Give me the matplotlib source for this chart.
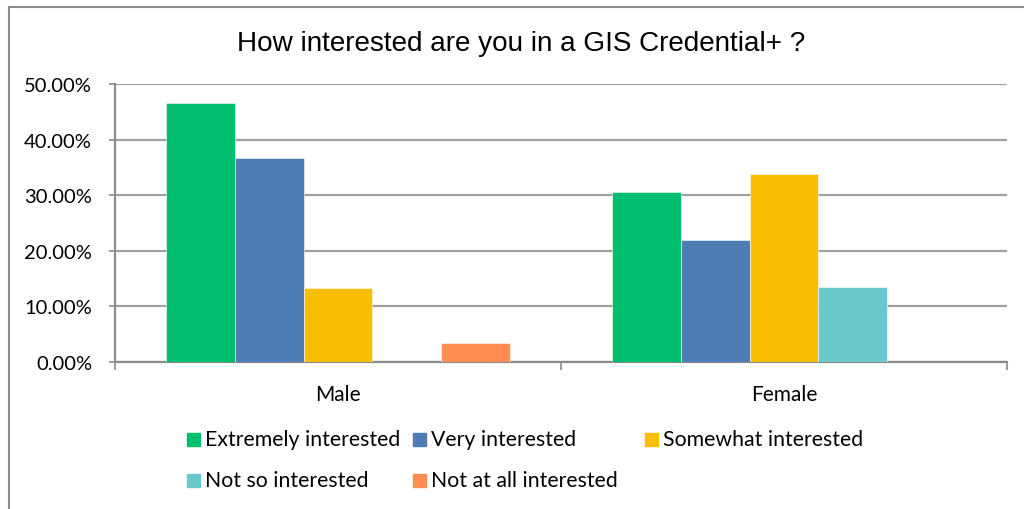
import matplotlib
matplotlib.use("Agg")
import matplotlib.pyplot as plt
from matplotlib.patches import Rectangle
from matplotlib.lines import Line2D
import numpy as np

plt.rcParams['font.family'] = ['Lato', 'DejaVu Sans']

title = "How interested are you in a GIS Credential+ ?"
groups = ["Male", "Female"]
series = ["Extremely interested", "Very interested", "Somewhat interested",
          "Not so interested", "Not at all interested"]
values = {
    "Extremely interested": [0.4667, 0.3051],
    "Very interested": [0.3667, 0.2203],
    "Somewhat interested": [0.1333, 0.3390],
    "Not so interested": [0.0, 0.1356],
    "Not at all interested": [0.0333, 0.0],
}
colors = ["#00BF6F", "#4F7CB5", "#F8BE00", "#6AC7CB", "#FF8C50"]
ytick_vals = [0.0, 0.1, 0.2, 0.3, 0.4, 0.5]

W, H = 1024, 510
fig = plt.figure(figsize=(W / 100, H / 100), dpi=100)
fig.patch.set_facecolor("white")

def fx(px):
    return px / W

def fy(py):
    return 1 - py / H

ax = fig.add_axes([fx(115), fy(363), fx(1007) - fx(115), fy(85) - fy(363)])

grey = "#8C8C8C"
bw = 0.154
x = np.arange(len(groups))
for i, (name, col) in enumerate(zip(series, colors)):
    offs = (i - (len(series) - 1) / 2) * bw
    ax.bar(x + offs, values[name], width=bw, color=col,
           edgecolor=(1, 1, 1, 0.55), linewidth=0.7, zorder=3)

ax.set_xlim(-0.5, 1.5)
ax.set_ylim(0, 0.5)
ax.set_yticks(ytick_vals)
ax.set_yticklabels([f"{v * 100:.2f}%" for v in ytick_vals])
ax.yaxis.grid(True, color="#A0A0A0", linewidth=1.6, zorder=0)
ax.set_axisbelow(True)

ax.set_xticks([-0.5, 0.5, 1.5])
ax.set_xticklabels([])
ax.set_xticks(x, minor=True)
ax.set_xticklabels(groups, minor=True)
ax.tick_params(axis="x", which="major", length=5.5, width=1.2, color=grey)
ax.tick_params(axis="x", which="minor", length=0, pad=16, labelsize=15)
ax.tick_params(axis="y", length=4.5, width=1.2, color=grey, pad=12, labelsize=14.5)

for s in ["top", "right"]:
    ax.spines[s].set_visible(False)
for s in ["left", "bottom"]:
    ax.spines[s].set_color(grey)
    ax.spines[s].set_linewidth(1.6)

fig.text(fx(521), fy(44), title, ha="center", va="center", fontsize=20.1,
         family=["Liberation Sans", "DejaVu Sans"])

# legend laid out in rows
leg_pos = [(187, 440), (413, 440), (645, 440), (187, 481), (413, 481)]
sq = 13
for (lx, ly), name, col in zip(leg_pos, series, colors):
    fig.add_artist(Rectangle((fx(lx), fy(ly + sq / 2)), sq / W, sq / H,
                             transform=fig.transFigure, color=col))
    fig.text(fx(lx + sq + 5), fy(ly), name, ha="left", va="center", fontsize=15.3)

# chart area frame (left and top edges)
fig.add_artist(Line2D([fx(9), fx(9)], [0, fy(8)], transform=fig.transFigure,
                      color=grey, linewidth=1.5))
fig.add_artist(Line2D([fx(9), 1], [fy(8), fy(8)], transform=fig.transFigure,
                      color=grey, linewidth=1.5))

fig.savefig("out.png", dpi=100)
